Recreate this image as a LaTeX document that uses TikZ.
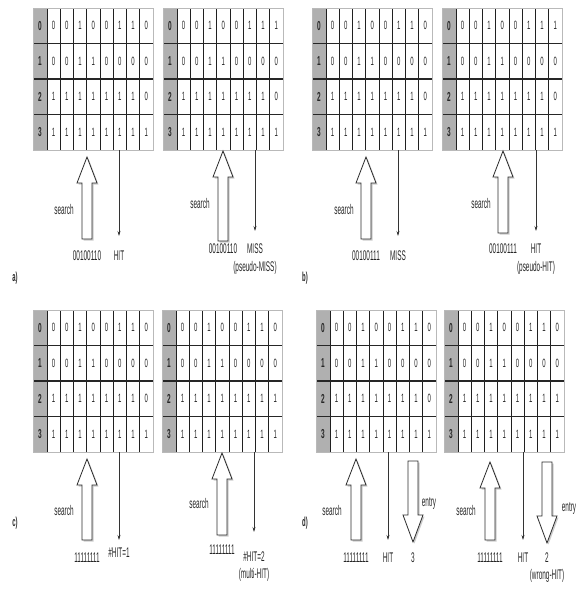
\documentclass[tikz,border=0pt]{standalone}
\usepackage{fontspec}
\usepackage{graphicx}
\setmainfont{Liberation Sans}
\usetikzlibrary{arrows.meta}
\newcommand{\nt}[1]{\scalebox{0.46}[1]{#1}}
\newcommand{\dt}[1]{\scalebox{0.5}[1]{#1}}
\tikzset{
  cellfill/.style={fill=white},
  idxfill/.style={fill=gray!62},
  colline/.style={draw=gray!25!black, line width=0.7pt},
  rowline/.style={draw=black!85, line width=1.5pt},
  tblbox/.style={draw=gray!55, line width=1pt, inner sep=0pt},
  digit/.style={font=\fontsize{12}{12}\selectfont, text=gray!30!black, inner sep=0pt},
  idx/.style={font=\bfseries\fontsize{13}{13}\selectfont, text=black!85, inner sep=0pt},
  lbl/.style={font=\fontsize{14}{14}\selectfont, text=black!85, inner sep=0pt},
  plbl/.style={font=\bfseries\fontsize{13}{13}\selectfont, text=black!85, inner sep=0pt},
  hollow/.style={draw=gray!35!black, fill=white, line width=0.8pt, line join=miter},
  hshadow/.style={fill=gray!40, draw=none},
  thinarr/.style={draw=gray!40!black, line width=0.6pt, -{Stealth[length=5pt,width=3pt]}}
}
\newcommand{\camtable}[7]{%
\begin{scope}[shift={(#2,#3)}]
 \fill[cellfill] (0,0) rectangle (120,142);
 \fill[idxfill] (0,0) rectangle (14,142);
 \foreach \c in {0,...,7} \draw[colline] ({14+13.25*\c},0) -- ({14+13.25*\c},142);
 \foreach \r in {1,2,3} \draw[rowline] (0,{35.5*\r}) -- (120,{35.5*\r});
 \node[tblbox, minimum width=120pt, minimum height=142pt, anchor=north west] (#1) at (0,0) {};
 \foreach \r/\bits in {0/{#4},1/{#5},2/{#6},3/{#7}} {
   \node[idx] at (7,{17.75+35.5*\r}) {\dt{\r}};
   \foreach \d [count=\i from 0] in \bits
     \node[digit] at ({14+13.25*\i+6.625},{17.75+35.5*\r}) {\dt{\d}};
 }
\end{scope}}
\newcommand{\hup}[3]{% x, ytip, ybot
 \fill[hshadow] ({#1+1.5},{#2+1.5}) -- ({#1+11.5},{#2+27.5}) -- ({#1+6.5},{#2+27.5}) -- ({#1+6.5},{#3+1.5}) -- ({#1-3.5},{#3+1.5}) -- ({#1-3.5},{#2+27.5}) -- ({#1-8.5},{#2+27.5}) -- cycle;
 \draw[hollow] (#1,#2) -- ({#1+10},{#2+26}) -- ({#1+5},{#2+26}) -- ({#1+5},#3) -- ({#1-5},#3) -- ({#1-5},{#2+26}) -- ({#1-10},{#2+26}) -- cycle;}
\newcommand{\hdown}[3]{% x, ytop, ytip
 \fill[hshadow] ({#1-3.5},{#2+1.5}) -- ({#1+6.5},{#2+1.5}) -- ({#1+6.5},{#3-25.5}) -- ({#1+11.5},{#3-25.5}) -- ({#1+1.5},{#3+1.5}) -- ({#1-8.5},{#3-25.5}) -- ({#1-3.5},{#3-25.5}) -- cycle;
 \draw[hollow] ({#1-5},#2) -- ({#1+5},#2) -- ({#1+5},{#3-27}) -- ({#1+10},{#3-27}) -- (#1,#3) -- ({#1-10},{#3-27}) -- ({#1-5},{#3-27}) -- cycle;}
\begin{document}
\begin{tikzpicture}[x=1pt,y=-1pt]
\useasboundingbox (0,0) rectangle (578,590);
% ---------- tables ----------
\camtable{ta1}{33}{8}{0,0,1,0,0,1,1,0}{0,0,1,1,0,0,0,0}{1,1,1,1,1,1,1,0}{1,1,1,1,1,1,1,1}
\camtable{ta2}{163}{8}{0,0,1,0,0,1,1,1}{0,0,1,1,0,0,0,0}{1,1,1,1,1,1,1,0}{1,1,1,1,1,1,1,1}
\camtable{tb1}{312}{8}{0,0,1,0,0,1,1,0}{0,0,1,1,0,0,0,0}{1,1,1,1,1,1,1,0}{1,1,1,1,1,1,1,1}
\camtable{tb2}{442}{8}{0,0,1,0,0,1,1,1}{0,0,1,1,0,0,0,0}{1,1,1,1,1,1,1,0}{1,1,1,1,1,1,1,1}
\camtable{tc1}{33}{310}{0,0,1,0,0,1,1,0}{0,0,1,1,0,0,0,0}{1,1,1,1,1,1,1,0}{1,1,1,1,1,1,1,1}
\camtable{tc2}{162}{310}{0,0,1,0,0,1,1,0}{0,0,1,1,0,0,0,0}{1,1,1,1,1,1,1,1}{1,1,1,1,1,1,1,1}
\camtable{td1}{316}{310}{0,0,1,0,0,1,1,0}{0,0,1,1,0,0,0,0}{1,1,1,1,1,1,1,0}{1,1,1,1,1,1,1,1}
\camtable{td2}{444}{310}{0,0,1,0,0,1,1,0}{0,0,1,1,0,0,0,0}{1,1,1,1,1,1,1,1}{1,1,1,1,1,1,1,1}
% ---------- panel a ----------
\hup{87}{157}{239}
\coordinate (a1s) at (119,150); \coordinate (a1e) at (119,236);
\draw[thinarr] (a1s) -- (a1e);
\node[lbl] (a1search) at (64,209) {\nt{search}};
\node[lbl] (a1key) at (87,256) {\nt{00100110}};
\node[lbl] (a1res) at (119,256) {\nt{HIT}};
\hup{223}{151}{241}
\coordinate (a2s) at (255,150); \coordinate (a2e) at (255,231);
\draw[thinarr] (a2s) -- (a2e);
\node[lbl] (a2search) at (200,203) {\nt{search}};
\node[lbl] (a2key) at (223,249) {\nt{00100110}};
\node[lbl] (a2res) at (255,249) {\nt{MISS}};
\node[lbl] (a2note) at (255,268) {\nt{(pseudo-MISS)}};
\node[plbl] (pa) at (15,278) {\nt{a)}};
% ---------- panel b ----------
\hup{366}{157}{239}
\coordinate (b1s) at (398,150); \coordinate (b1e) at (398,236);
\draw[thinarr] (b1s) -- (b1e);
\node[lbl] (b1search) at (344,209) {\nt{search}};
\node[lbl] (b1key) at (366,256) {\nt{00100111}};
\node[lbl] (b1res) at (398,256) {\nt{MISS}};
\hup{503}{151}{233}
\coordinate (b2s) at (536,150); \coordinate (b2e) at (536,231);
\draw[thinarr] (b2s) -- (b2e);
\node[lbl] (b2search) at (481,203) {\nt{search}};
\node[lbl] (b2key) at (503,249) {\nt{00100111}};
\node[lbl] (b2res) at (536,249) {\nt{HIT}};
\node[lbl] (b2note) at (536,268) {\nt{(pseudo-HIT)}};
\node[plbl] (pb) at (305,278) {\nt{b)}};
% ---------- panel c ----------
\hup{87}{459}{540}
\coordinate (c1s) at (119,452); \coordinate (c1e) at (119,540);
\draw[thinarr] (c1s) -- (c1e);
\node[lbl] (c1search) at (64,510) {\nt{search}};
\node[lbl] (c1key) at (87,558) {\nt{11111111}};
\node[lbl] (c1res) at (119,553) {\nt{\#HIT=1}};
\hup{222}{453}{535}
\coordinate (c2s) at (254,452); \coordinate (c2e) at (254,532);
\draw[thinarr] (c2s) -- (c2e);
\node[lbl] (c2search) at (199,503) {\nt{search}};
\node[lbl] (c2key) at (222,550) {\nt{11111111}};
\node[lbl] (c2res) at (254,557) {\nt{\#HIT=2}};
\node[lbl] (c2note) at (254,575) {\nt{(multi-HIT)}};
\node[plbl] (pc) at (15,523) {\nt{c)}};
% ---------- panel d ----------
\hup{356}{459}{540}
\coordinate (d1s) at (388,452); \coordinate (d1e) at (388,540);
\draw[thinarr] (d1s) -- (d1e);
\hdown{413}{461}{542}
\node[lbl] (d1search) at (332,510) {\nt{search}};
\node[lbl] (d1key) at (356,558) {\nt{11111111}};
\node[lbl] (d1res) at (388,558) {\nt{HIT}};
\node[lbl] (d1entry) at (429,503) {\nt{entry}};
\node[lbl] (d1num) at (413,558) {\nt{3}};
\hup{490}{462}{540}
\coordinate (d2s) at (523,452); \coordinate (d2e) at (523,540);
\draw[thinarr] (d2s) -- (d2e);
\hdown{547}{462}{543}
\node[lbl] (d2search) at (466,510) {\nt{search}};
\node[lbl] (d2key) at (490,558) {\nt{11111111}};
\node[lbl] (d2res) at (523,558) {\nt{HIT}};
\node[lbl] (d2entry) at (569,508) {\nt{entry}};
\node[lbl] (d2num) at (547,558) {\nt{2}};
\node[lbl] (d2note) at (547,576) {\nt{(wrong-HIT)}};
\node[plbl] (pd) at (305,523) {\nt{d)}};
\end{tikzpicture}
\end{document}
